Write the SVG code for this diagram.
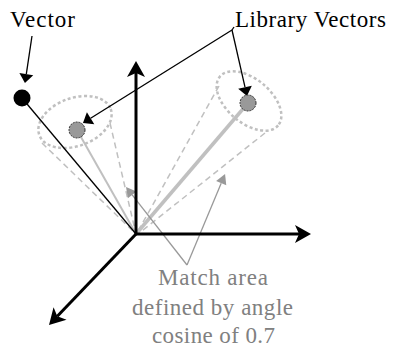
<svg xmlns="http://www.w3.org/2000/svg" width="393" height="348" viewBox="0 0 393 348">
<style>
.axis{stroke:#000;stroke-width:3;fill:none;marker-end:url(#axisHead)}
.cone{stroke:#c0c0c0;stroke-width:1.5;stroke-dasharray:6 4;fill:none}
.base{stroke:#c0c0c0;stroke-width:2.5;stroke-dasharray:3 2.5;fill:none}
.lib{fill:#999;stroke:#333;stroke-width:1;stroke-dasharray:2 1}
.ptr{stroke:#000;stroke-width:1.3;fill:none;marker-end:url(#blackHead)}
.gptr{stroke:#999;stroke-width:1.3;fill:none;marker-end:url(#grayHead)}
.lbl{font-size:23px;fill:#000}
.note{font-size:23px;fill:#808080}
</style>
<defs>
<marker id="axisHead" markerUnits="userSpaceOnUse" orient="auto" refX="4" refY="0" markerWidth="20" markerHeight="20" overflow="visible">
<path d="M0,-9 L16,0 L0,9 L4,0 z" fill="#000"/>
</marker>
<marker id="blackHead" markerUnits="userSpaceOnUse" orient="auto" refX="0" refY="0" markerWidth="10" markerHeight="14" overflow="visible">
<path d="M0,-7 L9,0 L0,7 z" fill="#000"/>
</marker>
<marker id="grayHead" markerUnits="userSpaceOnUse" orient="auto" refX="0" refY="0" markerWidth="10" markerHeight="12" overflow="visible">
<path d="M0,-5.5 L10,0 L0,5.5 z" fill="#999"/>
</marker>
</defs>

<g id="cone-left">
<line class="cone" x1="42" y1="143" x2="136" y2="234"/>
<line class="cone" x1="110" y1="123" x2="136" y2="234"/>
<ellipse class="base" cx="75" cy="122" rx="38" ry="24" transform="rotate(-20 75 122)"/>
</g>
<g id="cone-right">
<line class="cone" x1="219" y1="86" x2="137" y2="233"/>
<line class="cone" x1="265" y1="133" x2="138" y2="234"/>
<ellipse class="base" cx="249" cy="101" rx="38" ry="22" transform="rotate(40 249 101)"/>
</g>

<g id="connectors">
<line x1="136" y1="234" x2="77" y2="130" stroke="#c0c0c0" stroke-width="2"/>
<line x1="136" y1="234" x2="248" y2="103" stroke="#c0c0c0" stroke-width="3.5"/>
<line x1="136" y1="234" x2="22" y2="98" stroke="#000" stroke-width="1.3"/>
<line class="ptr" x1="32" y1="36" x2="26.3" y2="74.1"/>
<polyline points="234,27 232,30" stroke="#000" stroke-width="1.3" fill="none"/>
<line class="ptr" x1="232" y1="30" x2="245" y2="87.2"/>
<line class="ptr" x1="232" y1="30" x2="90.6" y2="118.2"/>
<line class="gptr" x1="187" y1="265" x2="132.2" y2="194.9"/>
<line class="gptr" x1="187" y1="265" x2="221.2" y2="183.2"/>
</g>

<g id="axes">
<line class="axis" x1="136" y1="235" x2="136" y2="73"/>
<line class="axis" x1="135" y1="234" x2="299" y2="234"/>
<line class="axis" x1="137" y1="233" x2="57.3" y2="316.3"/>
</g>

<g id="vector">
<circle cx="22" cy="98" r="8.5" fill="#000"/>
<text class="lbl" font-family="'Liberation Serif', 'DejaVu Serif', serif" x="10" y="27" textLength="65">Vector</text>
</g>
<g id="library-left">
<circle class="lib" cx="77" cy="130" r="8"/>
</g>
<g id="library-right">
<circle class="lib" cx="248" cy="103" r="8"/>
</g>
<g id="library-label">
<text class="lbl" font-family="'Liberation Serif', 'DejaVu Serif', serif" x="235" y="27" textLength="151">Library Vectors</text>
</g>
<g id="match-note" font-family="'Liberation Serif', 'DejaVu Serif', serif">
<text class="note" x="158" y="285" textLength="110">Match area</text>
<text class="note" x="132" y="315" textLength="161">defined by angle</text>
<text class="note" x="152" y="343" textLength="123">cosine of 0.7</text>
</g>
</svg>
